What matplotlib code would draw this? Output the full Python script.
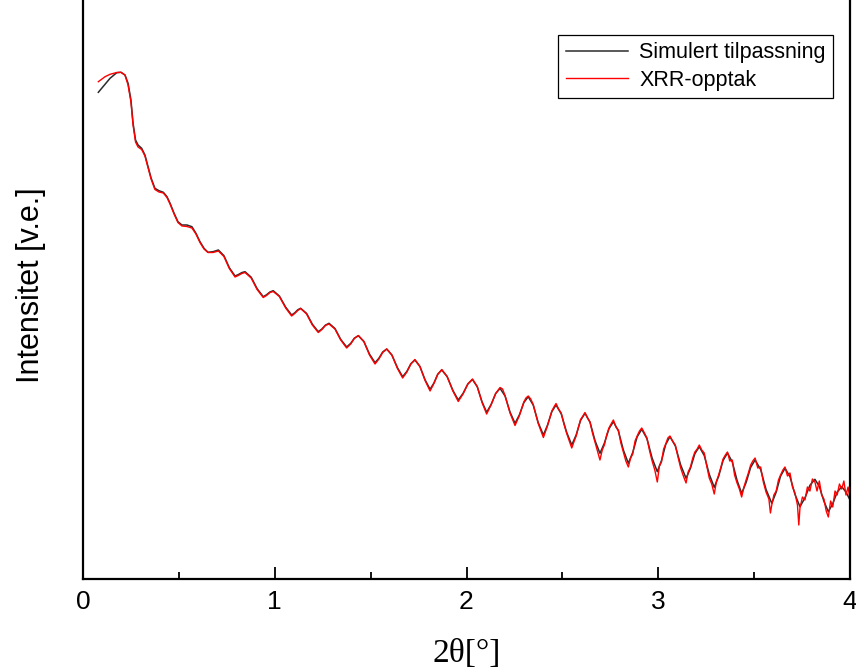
import matplotlib
matplotlib.use("Agg")
import matplotlib.pyplot as plt
from matplotlib.ticker import MultipleLocator

# Simulert tilpassning (2theta i grader, intensitet i vilkaarlige enheter)
sim_x = [
    0.080, 0.115, 0.141, 0.176, 0.198, 0.219, 0.235, 0.250, 0.261, 0.274,
    0.287, 0.306, 0.323, 0.339, 0.355, 0.375, 0.396, 0.419, 0.438, 0.454,
    0.475, 0.495, 0.516, 0.542, 0.568, 0.589, 0.610, 0.631, 0.652, 0.678,
    0.706, 0.735, 0.763, 0.793, 0.810, 0.828, 0.845, 0.877, 0.908, 0.940,
    0.957, 0.975, 0.992, 1.024, 1.057, 1.088, 1.104, 1.120, 1.135, 1.166,
    1.196, 1.227, 1.246, 1.264, 1.283, 1.314, 1.344, 1.375, 1.396, 1.415,
    1.436, 1.465, 1.494, 1.523, 1.543, 1.563, 1.584, 1.611, 1.640, 1.667,
    1.689, 1.710, 1.731, 1.757, 1.784, 1.810, 1.830, 1.850, 1.871, 1.899,
    1.929, 1.957, 1.982, 2.007, 2.031, 2.056, 2.081, 2.105, 2.128, 2.152,
    2.175, 2.201, 2.227, 2.253, 2.276, 2.299, 2.322, 2.348, 2.374, 2.401,
    2.422, 2.445, 2.467, 2.494, 2.522, 2.549, 2.572, 2.595, 2.618, 2.644,
    2.670, 2.696, 2.719, 2.743, 2.766, 2.792, 2.818, 2.844, 2.867, 2.890,
    2.914, 2.941, 2.968, 2.995, 3.017, 3.039, 3.061, 3.089, 3.117, 3.145,
    3.168, 3.191, 3.214, 3.240, 3.266, 3.292, 3.315, 3.338, 3.361, 3.386,
    3.411, 3.435, 3.458, 3.482, 3.505, 3.534, 3.562, 3.592, 3.615, 3.638,
    3.661, 3.687, 3.713, 3.739, 3.765, 3.791, 3.817, 3.840, 3.864, 3.887,
    3.910, 3.933, 3.957, 3.979, 4.000,
]
sim_y = [
    486.7, 494.7, 500.7, 506.3, 506.7, 504.0, 495.7, 479.0, 456.0, 439.0,
    434.0, 430.7, 424.0, 412.3, 401.0, 390.7, 388.3, 386.7, 382.3, 375.7,
    365.7, 357.3, 354.0, 354.0, 352.3, 345.7, 337.3, 330.7, 326.7, 327.3,
    329.0, 323.3, 311.3, 303.0, 304.4, 306.4, 307.3, 301.8, 290.3, 282.3,
    284.2, 287.0, 288.3, 283.0, 271.8, 264.0, 266.1, 269.2, 270.7, 265.6,
    254.8, 247.3, 250.0, 253.8, 255.7, 250.5, 239.6, 232.0, 235.6, 240.8,
    243.3, 237.4, 224.9, 216.3, 220.7, 227.0, 230.0, 223.9, 211.2, 202.3,
    207.6, 215.3, 219.0, 212.6, 199.1, 189.7, 195.9, 204.8, 209.0, 202.4,
    188.6, 179.0, 185.6, 195.0, 199.5, 192.3, 177.2, 166.7, 174.4, 185.4,
    190.7, 183.0, 166.9, 155.7, 164.2, 176.4, 182.3, 173.9, 156.3, 144.0,
    153.6, 167.4, 174.0, 165.2, 146.8, 134.0, 144.1, 158.7, 165.7, 156.9,
    138.5, 125.7, 135.8, 150.3, 157.3, 148.1, 129.0, 115.7, 126.6, 142.2,
    149.7, 140.4, 120.9, 107.3, 118.5, 134.6, 142.3, 133.1, 114.0, 100.7,
    110.8, 125.3, 132.3, 123.4, 104.7, 91.7, 102.7, 118.5, 126.0, 117.1,
    98.6, 85.7, 96.4, 111.7, 119.0, 109.5, 89.6, 75.7, 86.9, 103.0,
    110.7, 102.3, 84.6, 72.3, 81.1, 93.7, 99.7, 92.6, 77.7, 67.3,
    75.3, 86.8, 92.3, 87.0, 79.0,
]

# XRR-opptak (maalte data)
xrr_x = [
    0.080, 0.115, 0.141, 0.176, 0.198, 0.219, 0.235, 0.250, 0.261, 0.274,
    0.287, 0.306, 0.323, 0.339, 0.355, 0.375, 0.396, 0.419, 0.438, 0.454,
    0.475, 0.495, 0.516, 0.542, 0.568, 0.589, 0.610, 0.631, 0.652, 0.678,
    0.706, 0.735, 0.763, 0.793, 0.810, 0.828, 0.845, 0.877, 0.908, 0.940,
    0.957, 0.975, 0.992, 1.024, 1.057, 1.088, 1.104, 1.120, 1.135, 1.166,
    1.196, 1.227, 1.246, 1.264, 1.283, 1.314, 1.344, 1.375, 1.396, 1.415,
    1.436, 1.465, 1.494, 1.523, 1.543, 1.563, 1.584, 1.611, 1.640, 1.667,
    1.689, 1.710, 1.731, 1.757, 1.784, 1.810, 1.830, 1.850, 1.871, 1.899,
    1.929, 1.957, 1.982, 2.007, 2.031, 2.056, 2.081, 2.105, 2.128, 2.152,
    2.175, 2.188, 2.201, 2.227, 2.253, 2.276, 2.299, 2.310, 2.322, 2.335,
    2.348, 2.374, 2.401, 2.422, 2.445, 2.456, 2.467, 2.480, 2.494, 2.508,
    2.522, 2.536, 2.549, 2.560, 2.572, 2.584, 2.595, 2.607, 2.618, 2.631,
    2.644, 2.657, 2.670, 2.683, 2.696, 2.708, 2.719, 2.731, 2.743, 2.754,
    2.766, 2.779, 2.792, 2.805, 2.818, 2.831, 2.844, 2.856, 2.867, 2.879,
    2.890, 2.902, 2.914, 2.928, 2.941, 2.955, 2.968, 2.982, 2.995, 3.006,
    3.017, 3.028, 3.039, 3.050, 3.061, 3.075, 3.089, 3.103, 3.117, 3.131,
    3.145, 3.156, 3.168, 3.180, 3.191, 3.203, 3.214, 3.227, 3.240, 3.253,
    3.266, 3.279, 3.292, 3.304, 3.315, 3.327, 3.338, 3.350, 3.361, 3.373,
    3.386, 3.398, 3.411, 3.423, 3.435, 3.447, 3.458, 3.470, 3.482, 3.493,
    3.505, 3.519, 3.534, 3.548, 3.562, 3.577, 3.585, 3.592, 3.603, 3.615,
    3.627, 3.638, 3.650, 3.661, 3.674, 3.687, 3.700, 3.713, 3.726, 3.733,
    3.739, 3.752, 3.765, 3.778, 3.791, 3.804, 3.817, 3.828, 3.840, 3.852,
    3.864, 3.876, 3.887, 3.899, 3.910, 3.922, 3.933, 3.945, 3.957, 3.968,
    3.979, 3.990, 4.000,
]
xrr_y = [
    497.3, 502.3, 504.7, 506.5, 506.7, 504.0, 494.0, 477.0, 454.0, 437.0,
    432.0, 429.5, 423.0, 411.5, 400.0, 389.5, 387.0, 386.0, 381.5, 375.0,
    365.0, 356.5, 353.0, 352.5, 351.0, 345.0, 336.5, 330.0, 326.5, 326.5,
    328.0, 322.5, 310.5, 302.0, 303.5, 305.5, 306.5, 301.0, 289.5, 281.5,
    283.5, 286.5, 287.5, 282.5, 271.0, 263.0, 265.5, 268.5, 270.5, 265.0,
    254.0, 246.5, 249.5, 253.5, 255.0, 250.0, 239.0, 231.0, 235.0, 240.5,
    243.5, 237.5, 224.0, 215.0, 220.0, 226.5, 230.0, 224.0, 210.5, 201.0,
    207.0, 215.0, 219.5, 212.5, 198.5, 188.0, 195.5, 204.5, 209.5, 202.5,
    188.0, 177.5, 185.0, 195.0, 200.0, 192.5, 176.5, 165.0, 174.0, 185.5,
    191.5, 190.0, 183.5, 166.0, 153.5, 163.5, 177.0, 181.0, 183.0, 180.0,
    174.5, 155.5, 141.5, 153.0, 168.0, 172.0, 175.5, 170.0, 166.0, 155.0,
    146.0, 138.0, 131.0, 137.0, 143.0, 152.0, 159.5, 163.0, 166.5, 161.0,
    157.0, 146.0, 137.0, 128.0, 119.0, 129.0, 134.0, 144.0, 151.0, 155.0,
    159.0, 152.0, 149.0, 136.0, 127.0, 118.0, 112.0, 121.0, 125.0, 138.0,
    143.0, 148.0, 151.0, 146.0, 141.0, 128.0, 118.0, 109.0, 97.0, 113.0,
    117.0, 130.0, 135.0, 141.0, 143.0, 138.0, 134.0, 122.0, 111.0, 103.0,
    96.0, 107.0, 112.0, 121.0, 127.0, 130.0, 134.0, 129.0, 126.0, 113.0,
    101.0, 95.0, 85.0, 98.0, 104.0, 112.0, 120.0, 124.0, 127.0, 118.0,
    119.0, 104.0, 96.0, 90.0, 82.0, 92.0, 99.0, 106.0, 114.0, 118.0,
    121.0, 111.0, 112.0, 97.0, 87.0, 80.0, 66.0, 74.0, 84.0, 88.0,
    99.0, 104.0, 109.0, 112.0, 103.0, 106.0, 92.0, 86.0, 74.0, 54.0,
    71.0, 82.0, 79.0, 92.0, 88.0, 100.0, 97.0, 88.0, 98.0, 84.0,
    80.0, 68.0, 62.0, 78.0, 72.0, 88.0, 84.0, 95.0, 90.0, 98.0,
    84.0, 92.0, 80.0,
]

x_ticks = [0, 1, 2, 3, 4]
label_sim = "Simulert tilpassning"
label_xrr = "XRR-opptak"

fig = plt.figure(figsize=(8.56, 6.68), dpi=100)
ax = fig.add_axes([83 / 856, 89 / 668, 767 / 856, 579 / 668])

ax.plot(sim_x, sim_y, color="#2b2b2b", lw=1.1, label=label_sim)
ax.plot(xrr_x, xrr_y, color="#ff0000", lw=1.0, label=label_xrr)

ax.set_xlim(0, 4)
ax.set_ylim(0, 579)
ax.set_xticks(x_ticks)
ax.xaxis.set_minor_locator(MultipleLocator(0.5))
ax.set_yticks([])
ax.tick_params(axis="x", which="major", direction="in", length=9, width=1.3, pad=8)
ax.tick_params(axis="x", which="minor", direction="in", length=5, width=1.3)
for lab in ax.get_xticklabels():
    lab.set_family(["Liberation Sans Narrow", "Liberation Sans", "DejaVu Sans"])
    lab.set_fontsize(19)

ax.spines["top"].set_visible(False)
for s in ["left", "bottom", "right"]:
    ax.spines[s].set_linewidth(1.6)

ax.set_xlabel("2θ[°]", family=["Liberation Serif", "DejaVu Serif"], fontsize=24)
ax.xaxis.set_label_coords(0.5, -0.102)
ax.set_ylabel("Intensitet [v.e.]", family=["Liberation Sans", "DejaVu Sans"], fontsize=22)
ax.yaxis.set_label_coords(-0.048, 0.508)

leg = ax.legend(loc="upper right", bbox_to_anchor=(0.978, 0.94), borderaxespad=0,
                prop={"family": ["Liberation Sans", "DejaVu Sans"], "size": 15.5},
                fancybox=False, framealpha=1, edgecolor="black",
                handlelength=2.9, handletextpad=0.5, labelspacing=0.3,
                borderpad=0.35)
leg.get_frame().set_linewidth(0.9)

fig.savefig("out.png", dpi=100)
